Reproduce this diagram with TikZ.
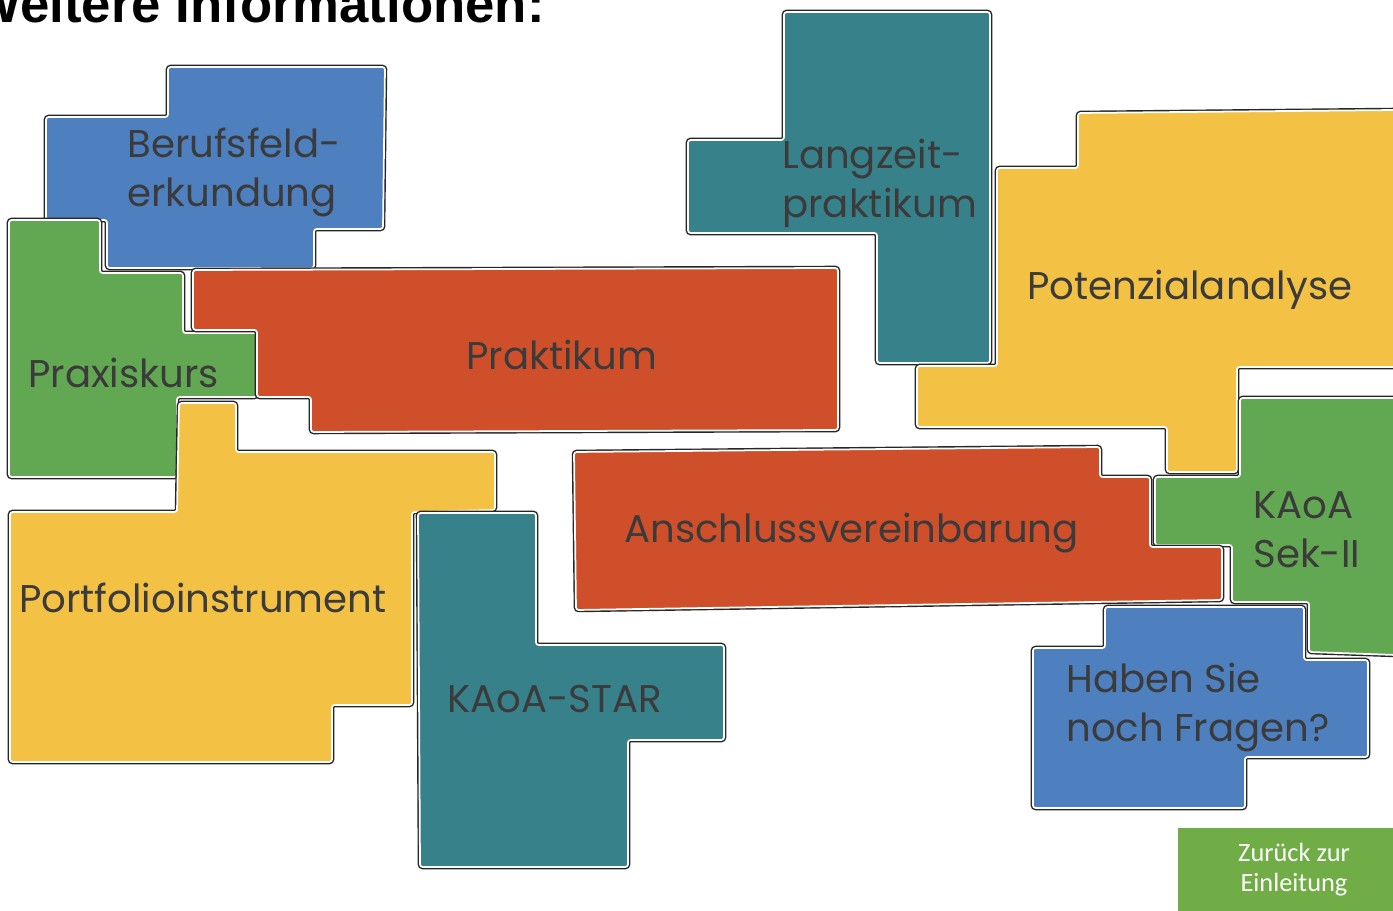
\documentclass[tikz,border=0pt]{standalone}
\usepackage{fontspec}
\setmainfont{Poppins}
\newfontfamily\headfont{Liberation Sans}
\newfontfamily\buttonfont{Carlito}
\definecolor{tileblue}{HTML}{4E7FBF}
\definecolor{tilegreen}{HTML}{62A752}
\definecolor{tilered}{HTML}{D04F2B}
\definecolor{tileyellow}{HTML}{F3C244}
\definecolor{tileteal}{HTML}{37818A}
\definecolor{labelgray}{HTML}{3B3B3B}
\definecolor{btngreen}{HTML}{70AD47}
\begin{document}
\begin{tikzpicture}[x=0.02cm,y=-0.02cm,
  tile/.style={draw=white,line width=1pt,line join=round,rounded corners=1.5pt,
    preaction={draw=black!85,line width=2.6pt}},
  lbl/.style={anchor=base west,inner sep=0pt,text=labelgray,align=left,
    font=\fontsize{22}{28.3}\selectfont}]
\useasboundingbox (0,0) rectangle (1393,911);
\clip (0,0) rectangle (1393,911);

% title, cut off at the top
\node[anchor=base east,inner sep=0pt,font=\headfont\bfseries\fontsize{30}{36}\selectfont] (title) at (545,23) {Weitere Informationen:};

% tiles
\filldraw[tile,fill=tileblue] (168,67) -- (385,67) -- (383,229) -- (314,229) -- (314,268) -- (107,268) -- (107,220) -- (46,220) -- (46,117) -- (168,117) -- cycle;
\filldraw[tile,fill=tilegreen] (9,220) -- (100,220) -- (100,273) -- (183,273) -- (183,333) -- (257,333) -- (257,397) -- (177,397) -- (177,477) -- (9,477) -- cycle;
\filldraw[tile,fill=tilered] (193,270) -- (838,268) -- (838,430) -- (311,432) -- (311,397) -- (257,397) -- (257,330) -- (193,330) -- cycle;
\filldraw[tile,fill=tileyellow] (179,403) -- (236,403) -- (236,452) -- (495,452) -- (495,510) -- (412,512) -- (412,705) -- (332,705) -- (332,762) -- (10,762) -- (10,512) -- (177,512) -- cycle;
\filldraw[tile,fill=tileteal] (418,513) -- (536,513) -- (536,645) -- (724,645) -- (724,740) -- (628,740) -- (628,867) -- (420,867) -- cycle;
\filldraw[tile,fill=tileteal] (784,12) -- (990,12) -- (990,363) -- (877,363) -- (877,233) -- (688,233) -- (688,140) -- (784,140) -- cycle;
\filldraw[tile,fill=tileyellow] (1078,113) -- (1396,110) -- (1396,367) -- (1237,367) -- (1237,472) -- (1167,472) -- (1167,427) -- (917,427) -- (917,366) -- (997,366) -- (997,168) -- (1078,168) -- cycle;
\filldraw[tile,fill=tilegreen] (1240,398) -- (1396,398) -- (1396,655) -- (1309,652) -- (1309,602) -- (1232,602) -- (1232,545) -- (1155,545) -- (1155,477) -- (1240,477) -- cycle;
\filldraw[tile,fill=tilered] (574,452) -- (1100,447) -- (1100,477) -- (1150,477) -- (1150,547) -- (1222,547) -- (1222,600) -- (576,610) -- cycle;
\filldraw[tile,fill=tileblue] (1105,607) -- (1304,607) -- (1304,660) -- (1368,660) -- (1368,757) -- (1245,757) -- (1245,808) -- (1033,808) -- (1033,648) -- (1105,648) -- cycle;

% labels (base = last line)
\node[lbl] (berufs) at (127,207) {Berufsfeld-\\erkundung};
\node[lbl] (praxis) at (28,388) {Praxiskurs};
\node[lbl] (prakt) at (466,370) {Praktikum};
\node[lbl] (langzeit) at (782,218) {Langzeit-\\praktikum};
\node[lbl] (potenzial) at (1027,300) {Potenzialanalyse};
\node[lbl] (portfolio) at (19,613) {Portfolioinstrument};
\node[lbl] (star) at (447,713) {KAoA-STAR};
\node[lbl] (anschluss) at (624,543) {Anschlussvereinbarung};
\node[lbl] (sek) at (1253,568) {KAoA\\Sek-II};
\node[lbl] (fragen) at (1066,742) {Haben Sie\\noch Fragen?};

% back button
\fill[btngreen] (1178,828) rectangle (1393,911);
\node[text=white,align=center,inner sep=0pt,font=\buttonfont\fontsize{15}{17}\selectfont] (back) at (1294,870) {Zurück zur\\Einleitung};
\end{tikzpicture}
\end{document}
